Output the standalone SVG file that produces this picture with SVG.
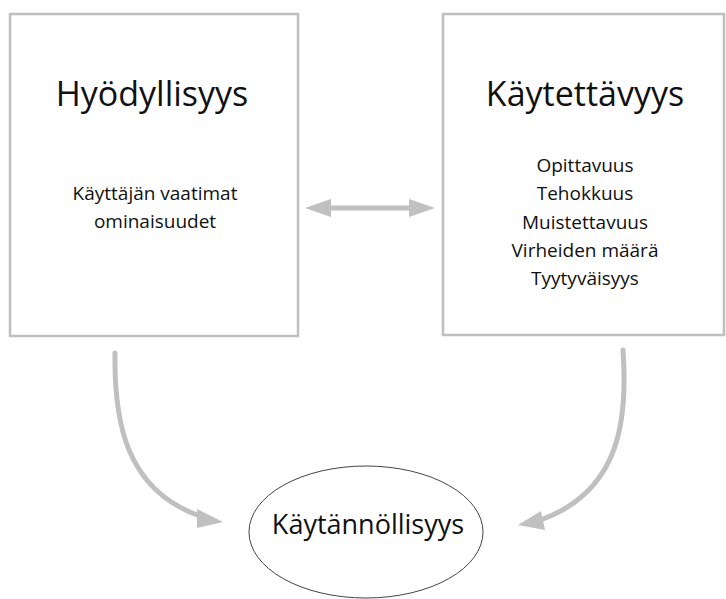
<svg xmlns="http://www.w3.org/2000/svg" width="726" height="599" viewBox="0 0 726 599">
<style>
.box{fill:#fff;stroke:#bfbfbf;stroke-width:2.5}
.t{font-family:"Open Sans","Noto Sans",sans-serif;fill:#111;text-anchor:middle}
.title{font-size:34px}
.sub{font-size:19px}
.conn{fill:none;stroke:#c0c0c0;stroke-width:5;stroke-linecap:round}
.head{fill:#c0c0c0}
</style>
<rect width="726" height="599" fill="#fff"/>
<g id="hyodyllisyys">
<rect class="box" x="10" y="14" width="288" height="322"/>
<text class="t title" x="152" y="106">Hyödyllisyys</text>
<text class="t sub" x="155" y="200">Käyttäjän vaatimat</text>
<text class="t sub" x="155" y="228">ominaisuudet</text>
</g>
<g id="kaytettavyys">
<rect class="box" x="443" y="14" width="281" height="321"/>
<text class="t title" x="585" y="106">Käytettävyys</text>
<text class="t sub" x="585" y="172">Opittavuus</text>
<text class="t sub" x="585" y="200">Tehokkuus</text>
<text class="t sub" x="585" y="229">Muistettavuus</text>
<text class="t sub" x="585" y="257">Virheiden määrä</text>
<text class="t sub" x="585" y="285">Tyytyväisyys</text>
</g>
<g id="kaytannollisyys">
<ellipse cx="366" cy="532" rx="117" ry="66" fill="#fff" stroke="#444" stroke-width="1"/>
<text class="t" style="font-size:27px" x="368" y="534">Käytännöllisyys</text>
</g>
<g id="connectors">
<line class="conn" x1="325" y1="208" x2="415" y2="208" stroke-linecap="butt"/>
<polygon class="head" points="305,208 331,199 331,217"/>
<polygon class="head" points="435,208 409,199 409,217"/>
<path class="conn" d="M115,353 C114,420 125,490 200,516"/>
<polygon class="head" points="223,522 197,509 197,528"/>
<path class="conn" d="M623,350 C628,420 620,490 543,519"/>
<polygon class="head" points="518,525 541,511 545,530"/>
</g>
</svg>
